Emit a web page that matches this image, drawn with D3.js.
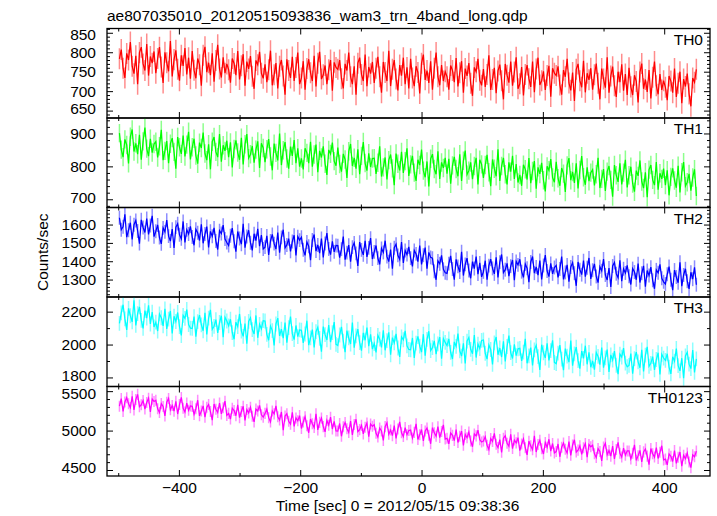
<!DOCTYPE html>
<html><head><meta charset="utf-8">
<script src="https://cdn.jsdelivr.net/npm/d3@7"></script>
<style>
body{margin:0;background:#fff}
svg{display:block}
text{font-family:"Liberation Sans",Arial,Helvetica,sans-serif;fill:#000}
</style>
</head><body>
<svg id="c" width="717" height="516"></svg>
<script>
const title = "ae807035010_20120515093836_wam3_trn_4band_long.qdp";
const xLabel = "Time [sec] 0 = 2012/05/15 09:38:36";
const yLabel = "Counts/sec";
const panelLabels = ["TH0", "TH1", "TH2", "TH3", "TH0123"];
const colors = ["#ff0000", "#00ff00", "#0000ff", "#00ffff", "#ff00ff"];
const binStart = -498, binSize = 3;

const th0 = [783,807,759,734,797,780,826,764,745,791,718,799,813,770,753,821,740,789,772,802,
746,784,813,762,721,800,773,751,829,738,781,805,756,727,792,765,811,743,786,732,
803,754,733,784,768,714,792,814,749,773,741,797,724,779,819,757,735,787,746,770,
755,722,784,771,741,803,730,765,795,714,776,757,790,738,706,779,768,801,746,733,
769,723,755,804,715,742,772,707,764,780,739,691,782,753,734,788,726,761,799,718,
734,777,704,758,782,747,726,791,712,772,801,731,742,766,718,755,780,701,774,761,
756,780,732,707,770,753,799,737,718,764,691,772,786,743,726,794,713,762,745,775,
721,759,788,737,696,775,748,726,804,713,756,780,731,702,767,740,786,718,761,707,
783,734,713,764,748,694,772,794,729,753,721,777,704,759,799,737,715,767,726,750,
737,704,766,753,723,785,712,747,777,696,758,739,772,720,688,761,750,783,728,715,
757,711,743,792,703,730,760,695,752,768,727,679,770,741,722,776,714,749,787,706,
719,762,689,743,767,732,711,776,697,757,786,716,727,751,703,740,765,686,759,746,
740,764,716,691,754,737,783,721,702,748,675,756,770,727,710,778,697,746,729,759,
704,742,771,720,679,758,731,709,787,696,739,763,714,685,750,723,769,701,744,690,
760,711,690,741,725,671,749,771,706,730,698,754,681,736,776,714,692,744,703,727,
710,677,739,726,696,758,685,720,750,669,731,712,745,693,661,734,723,756];

const th1 = [901,851,828,882,865,809,890,912,845,870,837,896,820,876,918,854,831,884,842,868,
875,827,861,911,819,847,877,810,869,886,844,793,889,858,838,894,830,866,905,821,
858,884,833,808,872,856,903,839,819,867,791,875,889,844,828,898,814,864,847,878,
828,873,797,853,879,842,820,887,806,867,898,825,837,862,811,851,876,795,870,856,
813,852,883,830,788,869,841,818,900,804,849,874,824,793,860,832,880,810,855,799,
824,791,855,841,810,875,799,836,866,782,847,827,861,808,774,850,838,872,816,802,
857,807,784,838,821,765,846,868,801,826,793,852,776,832,874,810,787,840,798,824,
825,777,811,861,769,797,827,760,819,836,794,743,839,808,788,844,780,816,855,771,
806,832,781,756,820,804,851,787,767,815,739,823,837,792,776,846,762,812,795,826,
778,823,747,803,829,792,770,837,756,817,848,775,787,812,761,801,826,745,820,806,
765,804,835,782,740,821,793,770,852,756,801,826,776,745,812,784,832,762,807,751,
774,741,805,791,760,825,749,786,816,732,797,777,811,758,724,800,788,822,766,752,
814,764,741,795,778,722,803,825,758,783,750,809,733,789,831,767,744,797,755,781,
790,742,776,826,734,762,792,725,784,801,759,708,804,773,753,809,745,781,820,736,
773,799,748,723,787,771,818,754,734,782,706,790,804,759,743,813,729,779,762,793,
743,788,712,768,794,757,735,802,721,782,813,740,752,777,726,766,791,710];

const th2 = [1637,1572,1588,1656,1531,1569,1610,1519,1599,1622,1565,1496,1626,1584,1557,1633,1546,1595,1648,1534,
1563,1598,1529,1495,1582,1560,1624,1537,1510,1575,1472,1586,1605,1544,1522,1617,1503,1571,1548,1590,
1532,1487,1574,1555,1513,1601,1498,1548,1589,1475,1563,1536,1582,1510,1464,1567,1551,1597,1521,1502,
1486,1539,1581,1509,1452,1562,1524,1493,1604,1474,1535,1569,1501,1459,1550,1512,1577,1482,1543,1467,
1477,1538,1435,1511,1546,1496,1466,1557,1447,1530,1572,1473,1489,1523,1454,1508,1542,1432,1534,1515,
1531,1463,1432,1505,1482,1406,1516,1546,1455,1489,1444,1524,1421,1497,1554,1467,1436,1508,1451,1486,
1485,1420,1466,1534,1409,1447,1488,1397,1477,1500,1443,1374,1504,1462,1435,1511,1424,1473,1526,1412,
1451,1486,1417,1383,1470,1448,1512,1425,1398,1463,1360,1474,1493,1432,1410,1505,1391,1459,1436,1478,
1417,1372,1459,1440,1398,1486,1383,1433,1474,1360,1448,1421,1417,1345,1299,1402,1386,1432,1356,1337,
1334,1387,1429,1357,1300,1410,1372,1341,1452,1322,1383,1417,1349,1307,1398,1360,1425,1330,1391,1315,
1342,1403,1300,1376,1411,1361,1331,1422,1312,1395,1437,1338,1354,1388,1319,1373,1407,1297,1399,1380,
1411,1343,1312,1385,1362,1286,1396,1426,1335,1369,1324,1404,1301,1377,1434,1347,1316,1388,1331,1366,
1377,1312,1358,1426,1301,1339,1380,1289,1369,1392,1335,1266,1396,1354,1327,1403,1316,1365,1418,1304,
1351,1386,1317,1283,1370,1348,1412,1325,1298,1363,1260,1374,1393,1332,1310,1405,1291,1359,1336,1378,
1318,1273,1360,1341,1299,1387,1284,1334,1375,1261,1349,1322,1368,1296,1250,1353,1337,1383,1307,1288,
1276,1329,1371,1299,1242,1352,1314,1283,1394,1264,1325,1359,1291,1249,1340,1302,1367,1272];

const th3 = [2129,2193,2242,2156,2089,2220,2175,2138,2269,2116,2188,2229,2147,2098,2206,2161,2238,2125,2197,2107,
2136,2082,2186,2163,2113,2217,2095,2154,2204,2068,2172,2140,2195,2109,2055,2177,2159,2213,2122,2100,
2098,2170,2048,2139,2179,2120,2084,2193,2062,2161,2211,2093,2111,2152,2071,2134,2175,2044,2166,2143,
2114,2154,2073,2032,2136,2109,2186,2082,2050,2127,2005,2141,2163,2091,2064,2177,2041,2123,2095,2145,
2143,2062,2026,2112,2085,1994,2125,2161,2053,2094,2039,2134,2012,2103,2170,2066,2030,2116,2048,2089,
2087,2010,2064,2145,1996,2041,2091,1983,2078,2105,2037,1956,2109,2060,2028,2118,2014,2073,2136,2001,
1994,2058,2107,2021,1954,2085,2040,2003,2134,1981,2053,2094,2012,1963,2071,2026,2103,1990,2062,1972,
2006,1952,2056,2033,1983,2087,1965,2024,2074,1938,2042,2010,2065,1979,1925,2047,2029,2083,1992,1970,
1968,2040,1918,2009,2049,1990,1954,2063,1932,2031,2081,1963,1981,2022,1941,2004,2045,1914,2036,2013,
1994,2034,1953,1912,2016,1989,2066,1962,1930,2007,1885,2021,2043,1971,1944,2057,1921,2003,1975,2025,
2028,1947,1911,1997,1970,1879,2010,2046,1938,1979,1924,2019,1897,1988,2055,1951,1915,2001,1933,1974,
1977,1900,1954,2035,1886,1931,1981,1873,1968,1995,1927,1846,1999,1950,1918,2008,1904,1963,2026,1891,
1884,1948,1997,1911,1844,1975,1930,1893,2024,1871,1943,1984,1902,1853,1961,1916,1993,1880,1952,1862,
1901,1847,1951,1928,1878,1982,1860,1919,1969,1833,1937,1905,1960,1874,1820,1942,1924,1978,1887,1865,
1873,1945,1823,1914,1954,1895,1859,1968,1837,1936,1986,1868,1886,1927,1846,1909,1950,1819,1941,1918,
1904,1944,1863,1822,1926,1899,1976,1872,1840,1917,1795,1931,1953,1881,1854,1967,1831,1913];

const th0123 = [5309,5405,5243,5363,5417,5339,5291,5435,5261,5393,5459,5303,5327,5381,5273,5357,5411,5237,5399,5369,
5384,5276,5228,5342,5306,5186,5360,5408,5264,5318,5246,5372,5210,5330,5420,5282,5234,5348,5258,5312,
5307,5205,5277,5385,5187,5247,5313,5169,5295,5331,5241,5133,5337,5271,5229,5349,5211,5289,5373,5193,
5218,5146,5284,5254,5188,5326,5164,5242,5308,5128,5266,5224,5296,5182,5110,5272,5248,5320,5200,5170,
5218,5272,5164,5110,5248,5212,5314,5176,5134,5236,5004,5184,5214,5118,5082,5232,5052,5160,5124,5190,
5026,5110,5176,5062,4972,5146,5086,5038,5212,5008,5104,5158,5050,4984,5128,5068,5170,5020,5116,4996,
4994,5090,4928,5048,5102,5024,4976,5120,4946,5078,5144,4988,5012,5066,4958,5042,5096,4922,5084,5054,
5074,4966,4918,5032,4996,4876,5050,5098,4954,5008,4936,5062,4900,5020,5110,4972,4924,5038,4948,5002,
5007,4905,4977,5085,4887,4947,5013,4869,4995,5031,4941,4833,5037,4971,4929,5049,4911,4989,5073,4893,
4903,4831,4969,4939,4873,5011,4849,4927,4993,4813,4951,4909,4981,4867,4795,4957,4933,5005,4885,4855,
4868,4922,4814,4760,4898,4862,4964,4826,4784,4886,4724,4904,4934,4838,4802,4952,4772,4880,4844,4910,
4746,4830,4896,4782,4692,4866,4806,4758,4932,4728,4824,4878,4770,4704,4848,4788,4890,4740,4836,4716,
4734,4830,4668,4788,4842,4764,4716,4860,4686,4818,4884,4728,4752,4806,4698,4782,4836,4662,4824,4794,
4814,4706,4658,4772,4736,4616,4790,4838,4694,4748,4676,4802,4640,4760,4850,4712,4664,4778,4688,4742,
4742,4640,4712,4820,4622,4682,4748,4604,4730,4766,4676,4568,4772,4706,4664,4784,4646,4724,4808,4628,
4638,4566,4704,4674,4608,4746,4584,4662,4728,4548,4686,4644,4716,4602,4530,4692,4668,4740];

const errors = [27, 28, 38, 45, 70];
const yDomains = [[631, 861], [675, 947], [1205, 1693], [1745, 2289], [4424, 5559]];
const yMajorTicks = [[650, 700, 750, 800, 850], [700, 800, 900], [1300, 1400, 1500, 1600], [1800, 2000, 2200], [4500, 5000, 5500]];
const yMinorTicks = [d3.range(640, 861, 10), d3.range(680, 941, 20), d3.range(1220, 1681, 20), d3.range(1800, 2281, 100), d3.range(4500, 5501, 100)];
const xMajorTicks = [-400, -200, 0, 200, 400];
const xMinorTicks = [-500, -300, -100, 100, 300];
const xDomain = [-518.5, 475.5];

const series = [th0, th1, th2, th3, th0123];

const svg = d3.select("#c");
const L = 107, R = 710, T = 28.5, B = 476;
const ph = (B - T) / 5;
const FS = 15.5;
const x = d3.scaleLinear().domain(xDomain).range([L, R]);

svg.append("rect").attr("width", 717).attr("height", 516).attr("fill", "#fff");

series.forEach((vals, p) => {
  const top = T + p * ph, bot = top + ph;
  const y = d3.scaleLinear().domain(yDomains[p]).range([bot, top]);
  const g = svg.append("g");
  const cid = "clip" + p;
  svg.append("clipPath").attr("id", cid).append("rect")
    .attr("x", L).attr("y", top).attr("width", R - L).attr("height", ph);
  const data = vals.map((v, i) => ({t: binStart + i * binSize, v}));
  const dg = g.append("g").attr("clip-path", `url(#${cid})`);
  dg.selectAll("line.err").data(data).enter().append("line")
    .attr("x1", d => x(d.t)).attr("x2", d => x(d.t))
    .attr("y1", d => y(d.v - errors[p])).attr("y2", d => y(d.v + errors[p]))
    .attr("stroke", colors[p]).attr("stroke-opacity", 0.45).attr("stroke-width", 1.5);
  dg.append("path").datum(data)
    .attr("d", d3.line().x(d => x(d.t)).y(d => y(d.v)))
    .attr("fill", "none").attr("stroke", colors[p]).attr("stroke-width", 1.25);

  const ax = (gen, tx, ty) => {
    const a = g.append("g").attr("transform", `translate(${tx},${ty})`).call(gen);
    a.select(".domain").remove();
    a.selectAll("line").attr("stroke", "#000").attr("stroke-width", 1);
    a.selectAll("text").attr("font-size", FS).attr("font-family", '"Liberation Sans",Arial,sans-serif').attr("fill", "#000");
    return a;
  };
  const minors = yMinorTicks[p].filter(v => !yMajorTicks[p].includes(v));
  const la = ax(d3.axisLeft(y).tickValues(yMajorTicks[p]).tickSize(-6).tickPadding(11).tickFormat(d3.format("d")), L, 0);
  // keep labels of neighbouring panels from touching
  la.selectAll(".tick text").attr("y", d => (bot - y(d) < 10 ? -2 : (y(d) - top < 6 ? 2 : 0)));
  ax(d3.axisLeft(y).tickValues(minors).tickSize(-3).tickFormat(""), L, 0);
  ax(d3.axisRight(y).tickValues(yMajorTicks[p]).tickSize(-6).tickFormat(""), R, 0);
  ax(d3.axisRight(y).tickValues(minors).tickSize(-3).tickFormat(""), R, 0);
  ax(d3.axisTop(x).tickValues(xMajorTicks).tickSize(-6).tickFormat(""), 0, top);
  ax(d3.axisTop(x).tickValues(xMinorTicks).tickSize(-3).tickFormat(""), 0, top);
  const isLast = p === series.length - 1;
  ax(d3.axisBottom(x).tickValues(xMajorTicks).tickSize(-6).tickPadding(6)
    .tickFormat(isLast ? (d => d < 0 ? "\u2212" + Math.abs(d) : String(d)) : ""), 0, bot);
  ax(d3.axisBottom(x).tickValues(xMinorTicks).tickSize(-3).tickFormat(""), 0, bot);

  g.append("rect").attr("x", L).attr("y", top).attr("width", R - L).attr("height", ph)
    .attr("fill", "none").attr("stroke", "#000").attr("stroke-width", 1.3);

  g.append("text").attr("x", R - 7).attr("y", top + 16).attr("text-anchor", "end")
    .attr("font-size", FS).text(panelLabels[p]);
});

svg.append("text").attr("x", L).attr("y", 21).attr("font-size", FS).text(title);
svg.append("text").attr("x", 397.5).attr("y", 511).attr("text-anchor", "middle")
  .attr("font-size", FS).text(xLabel);
svg.append("text").attr("transform", `translate(48,${(T + B) / 2}) rotate(-90)`)
  .attr("text-anchor", "middle").attr("font-size", FS).text(yLabel);
</script>
</body></html>
